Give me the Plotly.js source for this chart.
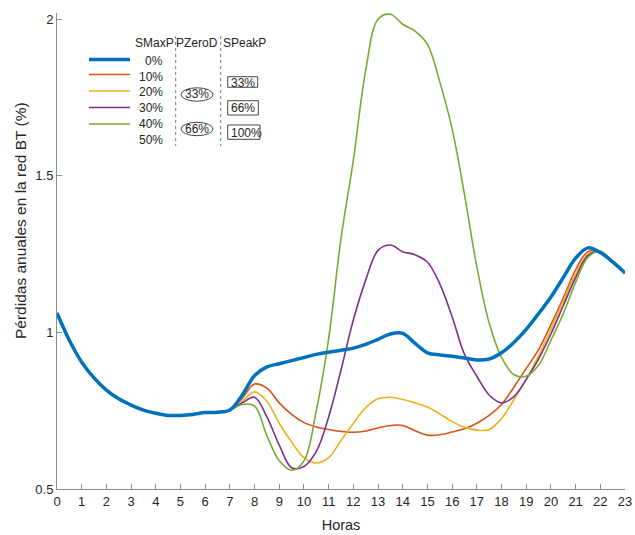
<!DOCTYPE html>
<html>
<head>
<meta charset="utf-8">
<script src="https://cdn.plot.ly/plotly-3.0.1.min.js"></script>
<style>html,body{margin:0;padding:0;background:#fff}#chart{width:635px;height:535px}</style>
</head>
<body>
<div id="chart"></div>
<script>
// Hours (half-hour grid)
const hours = [0,0.5,1,1.5,2,2.5,3,3.5,4,4.5,5,5.5,6,6.5,7,7.5,8,8.5,9,9.5,10,10.5,11,11.5,12,12.5,13,13.5,14,14.5,15,15.5,16,16.5,17,17.5,18,18.5,19,19.5,20,20.5,21,21.5,22,22.5,23];

// Shared morning segment 0..7h (all series overlap)
const common = [1.062,0.975,0.905,0.855,0.816,0.788,0.768,0.752,0.742,0.735,0.735,0.738,0.744,0.745,0.752];

const s0 = common.concat([0.800,0.862,0.890,0.900,0.910,0.920,0.930,0.937,0.943,0.950,0.962,0.978,0.995,0.997,0.965,0.935,0.928,0.924,0.918,0.912,0.915,0.935,0.968,1.010,1.060,1.113,1.175,1.237,1.270,1.255,1.225,1.190]);
const s10 = common.concat([0.790,0.835,0.822,0.775,0.738,0.712,0.698,0.690,0.684,0.681,0.685,0.695,0.703,0.703,0.686,0.672,0.673,0.682,0.692,0.710,0.735,0.770,0.825,0.885,0.945,1.025,1.110,1.200,1.258,1.255,1.225,1.190]);
const s20 = common.concat([0.780,0.810,0.780,0.710,0.650,0.600,0.583,0.600,0.655,0.710,0.760,0.788,0.793,0.786,0.775,0.762,0.740,0.715,0.697,0.688,0.690,0.725,0.785,0.850,0.925,1.010,1.100,1.185,1.250,1.255,1.225,1.190]);
const s30 = common.concat([0.775,0.793,0.730,0.640,0.568,0.572,0.620,0.730,0.880,1.040,1.167,1.262,1.279,1.258,1.248,1.225,1.155,1.050,0.930,0.860,0.800,0.775,0.795,0.850,0.915,0.995,1.085,1.175,1.245,1.258,1.225,1.190]);
const s40 = common.concat([0.770,0.765,0.670,0.590,0.560,0.590,0.750,0.980,1.300,1.550,1.837,2.000,2.016,1.984,1.962,1.920,1.800,1.650,1.440,1.210,1.030,0.920,0.865,0.860,0.895,0.975,1.060,1.160,1.240,1.260,1.225,1.190]);

const seriesNames = ['0%','10%','20%','30%','40%'];
const seriesVals = [s0,s10,s20,s30,s40];
const colors = ['#0072BD','#D95319','#EDB120','#7E2F8E','#77AC30'];
const widths = [3.5,1.6,1.6,1.6,1.6];

const xTicks = [0,1,2,3,4,5,6,7,8,9,10,11,12,13,14,15,16,17,18,19,20,21,22,23];
const yTicks = [0.5,1,1.5,2];
const yTickText = ['0.5','1','1.5','2'];

const yTitle = 'Pérdidas anuales en la red BT (%)';
const xTitle = 'Horas';
const legendRows = ['0%','10%','20%','30%','40%','50%'];
const legendHeads = ['SMaxP','PZeroD','SPeakP'];
const pzeroLabels = ['33%','66%'];
const speakLabels = ['33%','66%','100%'];

// draw order: others first, blue on top
const traces = [];
[1,2,3,4,0].forEach(i => {
  traces.push({x: hours, y: seriesVals[i], type:'scatter', mode:'lines', name: seriesNames[i],
    line:{color:colors[i], width:widths[i], shape:'spline', smoothing:1.0}, showlegend:false, hoverinfo:'skip'});
});

// pixel -> paper helpers for the hand-built legend (plot area: x 57..625, y 13..489)
const L=57, R=625, T=13, B=489;
const px = v => (v-L)/(R-L);
const py = v => (B-v)/(B-T);

const shapes = [];
const annotations = [];
const FAM = 'Liberation Sans, Arial, sans-serif';
const font = {family:FAM, size:12, color:'#262626'};

// legend line samples
const lineY = [59.5,74.5,91,107.5,124];
lineY.forEach((yy,i)=>{
  shapes.push({type:'line', xref:'paper', yref:'paper', x0:px(89), x1:px(130), y0:py(yy), y1:py(yy),
    line:{color:colors[i], width:widths[i]}});
});
const rowY = [61,76.7,92.3,108.5,124,140];
legendRows.forEach((t,i)=>{
  annotations.push({xref:'paper', yref:'paper', x:px(164.5), y:py(rowY[i]), text:t, showarrow:false,
    xanchor:'right', yanchor:'middle', font:font});
});
// headers
const headX = [154.5, 197, 244];
legendHeads.forEach((t,i)=>{
  annotations.push({xref:'paper', yref:'paper', x:px(headX[i]), y:py(43.3), text:t, showarrow:false,
    xanchor:'center', yanchor:'middle', font:font});
});
// dashed separators
[175.7, 220.7].forEach(xx=>{
  shapes.push({type:'line', xref:'paper', yref:'paper', x0:px(xx), x1:px(xx), y0:py(36), y1:py(146),
    line:{color:'#555', width:0.8, dash:'3px,3px'}});
});
// PZeroD ellipses
const pzY = [94.5, 129];
pzeroLabels.forEach((t,i)=>{
  shapes.push({type:'circle', xref:'paper', yref:'paper', x0:px(181), x1:px(213), y0:py(pzY[i]-6.7), y1:py(pzY[i]+6.7),
    line:{color:'#333', width:0.9}});
  annotations.push({xref:'paper', yref:'paper', x:px(197), y:py(pzY[i]), text:t, showarrow:false,
    xanchor:'center', yanchor:'middle', font:font});
});
// SPeakP boxes
const spY0 = [76.7, 100.7, 125];
const spY1 = [87.3, 115, 139.3];
const spX1 = [257.7, 258.3, 260];
speakLabels.forEach((t,i)=>{
  shapes.push({type:'rect', xref:'paper', yref:'paper', x0:px(227.7), x1:px(spX1[i]), y0:py(spY1[i]), y1:py(spY0[i]),
    line:{color:'#333', width:0.9}});
  annotations.push({xref:'paper', yref:'paper', x:px(229), y:py((spY0[i]+spY1[i])/2+0.5), text:t, showarrow:false,
    xanchor:'left', yanchor:'middle', font:font});
});

// y-axis title (placed as in the reference, slightly above the plot centre)
annotations.push({xref:'paper', yref:'paper', x:px(20), y:py(221), text:yTitle, textangle:-90, showarrow:false,
  xanchor:'center', yanchor:'middle', font:{family:FAM, size:15.5, color:'#262626'}});

const axisFont = {family:FAM, size:13, color:'#262626'};
const layout = {
  width:635, height:535,
  margin:{l:57, r:10, t:13, b:46, pad:0},
  paper_bgcolor:'#fff', plot_bgcolor:'#fff',
  showlegend:false,
  xaxis:{range:[0,23], tickvals:xTicks, ticktext:xTicks.map(String), ticks:'inside', ticklen:5, tickcolor:'#8c8c8c',
    showline:true, linecolor:'#8c8c8c', linewidth:1, showgrid:false, zeroline:false, tickfont:axisFont,
    title:{text:xTitle, font:{family:FAM, size:14.5, color:'#262626'}, standoff:12}},
  yaxis:{range:[0.5,2.02], tickvals:yTicks, ticktext:yTickText, ticks:'inside', ticklen:5, tickcolor:'#8c8c8c',
    showline:true, linecolor:'#8c8c8c', linewidth:1, showgrid:false, zeroline:false, tickfont:axisFont},
  shapes:shapes,
  annotations:annotations
};
Plotly.newPlot('chart', traces, layout, {staticPlot:true, displayModeBar:false});
</script>
</body>
</html>
